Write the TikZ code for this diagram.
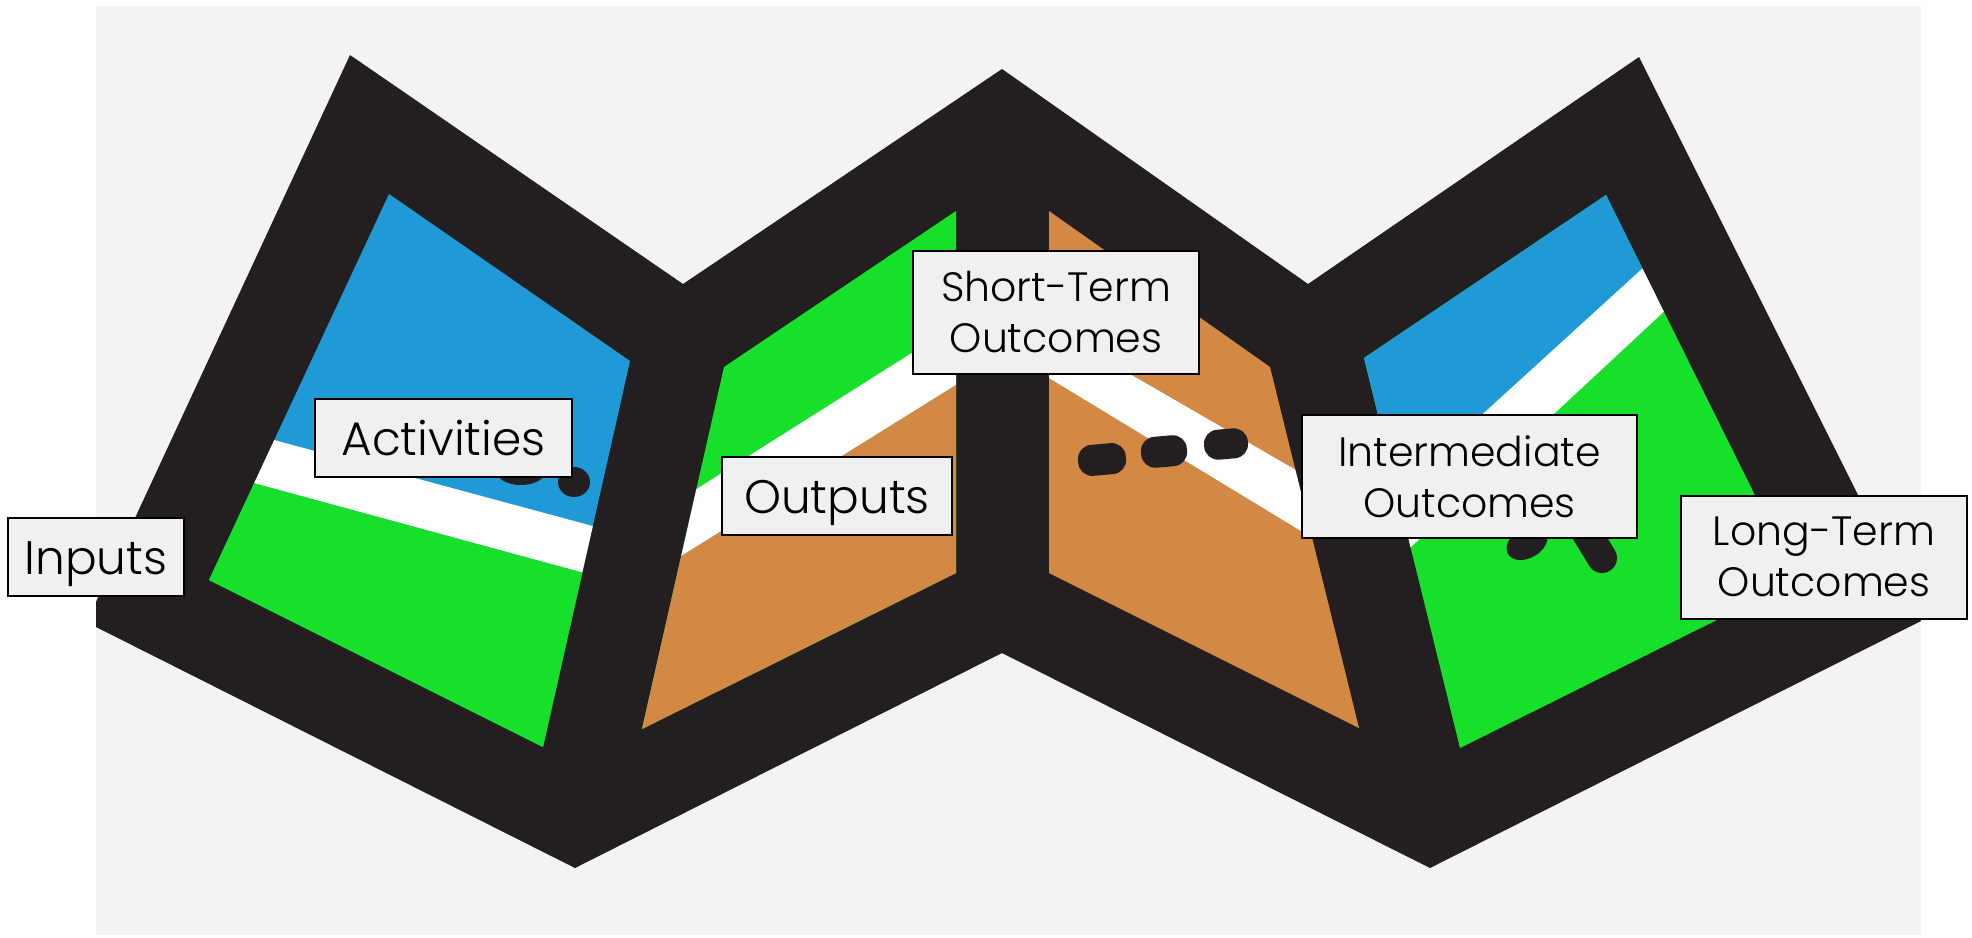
\documentclass[tikz,border=0pt]{standalone}
\usepackage{fontspec}
\setmainfont[UprightFont=* Light]{Poppins}
\definecolor{bgc}{HTML}{F3F3F3}
\definecolor{ink}{HTML}{231F20}
\definecolor{bluec}{HTML}{1F9AD6}
\definecolor{greenc}{HTML}{17E02B}
\definecolor{orangec}{HTML}{D38843}
\definecolor{boxc}{HTML}{F0F0F0}
\tikzset{
  lab/.style={draw=black,line width=2pt,fill=boxc,inner sep=0pt,align=center,text=black,anchor=center},
  labone/.style={lab,font=\fontsize{47}{51}\selectfont,text height=56pt,text depth=22pt},
  labtwo/.style={lab,font=\fontsize{41}{51}\selectfont,minimum height=123pt},
  pill/.style={fill=ink,rounded corners=14pt},
}
\begin{document}
\begin{tikzpicture}[x=1pt,y=-1pt]
\useasboundingbox (0,0) rectangle (1972,937);
\fill[white] (0,0) rectangle (1972,937);
\fill[bgc] (96,6) rectangle (1921,935);
\fill[ink] (350,55)--(683,284)--(1002,69)--(1308,284)--(1639,57)--(1921,621)--(1430,868)--(1002,653)--(575,868)--(96,627)--(96,602)--cycle;
% panel 1
\begin{scope}
\clip (389,194)--(630,361)--(543,747)--(209,580)--cycle;
\fill[bluec] (200,180) rectangle (650,800);
\fill[white] (200,420)--(650,541.5)--(650,591)--(200,468.5)--cycle;
\fill[greenc] (200,468.5)--(650,591)--(650,800)--(200,800)--cycle;
\end{scope}
\fill[ink] (521,472) ellipse (24 and 13);
\fill[ink] (574,482) ellipse (16 and 15);
% panel 2
\begin{scope}
\clip (956,211)--(956,573)--(642,729)--(724,367)--cycle;
\fill[greenc] (630,200) rectangle (960,740);
\fill[white] (630,531)--(960,322.5)--(960,382.5)--(630,588)--cycle;
\fill[orangec] (630,588)--(960,382.5)--(960,740)--(630,740)--cycle;
\end{scope}
% panel 3
\begin{scope}
\clip (1049,211)--(1270,367)--(1359,728)--(1049,573)--cycle;
\fill[orangec] (1040,200) rectangle (1370,740);
\fill[white] (1040,322)--(1320,484)--(1320,542.5)--(1040,372.5)--cycle;
\end{scope}
\fill[pill,rotate around={5:(1102,459.5)}] (1078,444) rectangle (1126,475);
\fill[pill,rotate around={5:(1164,451.5)}] (1141,436) rectangle (1187,467);
\fill[pill,rotate around={5:(1226,444)}] (1204,429) rectangle (1248,459);
% panel 4
\begin{scope}
\clip (1606,195)--(1797,580)--(1460,748)--(1364,358)--cycle;
\fill[greenc] (1350,180) rectangle (1810,760);
\fill[bluec] (1350,180)--(1700,180)--(1700,216)--(1350,535)--cycle;
\fill[white] (1350,535)--(1700,216)--(1700,278)--(1350,603.7)--cycle;
\end{scope}
\fill[ink,rotate around={30:(1527,543)}] (1527,543) ellipse (22 and 15);
\draw[ink,line width=30pt,line cap=round] (1585,530)--(1602,558);
% labels
\node[labone,minimum width=176pt] (inputs) at (96,557) {Inputs};
\node[labone,minimum width=257pt] (activities) at (443.5,438) {Activities};
\node[labone,minimum width=230pt] (outputs) at (837,496) {Outputs};
\node[labtwo,minimum width=286pt] (short) at (1056,312.5) {Short-Term\\Outcomes};
\node[labtwo,minimum width=335pt] (inter) at (1469.5,476.5) {Intermediate\\Outcomes};
\node[labtwo,minimum width=286pt] (long) at (1824,557) {Long-Term\\Outcomes};
\end{tikzpicture}
\end{document}
